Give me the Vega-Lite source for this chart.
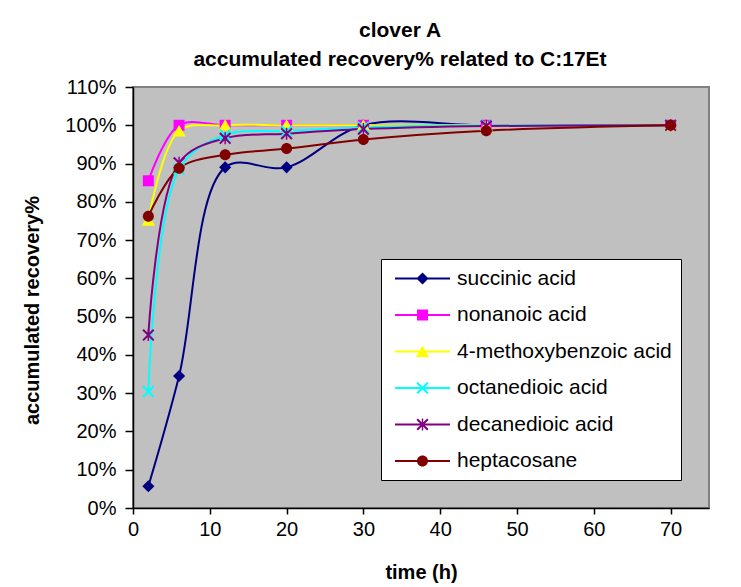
{
  "$schema": "https://vega.github.io/schema/vega-lite/v6.json",
  "width": 576,
  "height": 421,
  "autosize": {"type": "none"},
  "padding": {"left": 133, "top": 87, "right": 32, "bottom": 79},
  "background": "white",
  "config": {
    "font": "Liberation Sans",
    "view": {"fill": "#C0C0C0", "stroke": "#808080", "strokeWidth": 2},
    "axis": {
      "grid": false,
      "domainColor": "black",
      "domainWidth": 1.5,
      "tickColor": "black",
      "tickWidth": 1.5,
      "labelFont": "Liberation Sans",
      "labelFontSize": 20,
      "labelColor": "black",
      "titleFont": "Liberation Sans",
      "titleFontSize": 20,
      "titleFontWeight": "bold",
      "titleColor": "black"
    },
    "legend": {
      "labelFont": "Liberation Sans",
      "labelFontSize": 21,
      "labelColor": "black",
      "labelLimit": 400,
      "symbolSize": 121,
      "symbolStrokeWidth": 0,
      "rowPadding": 14.5,
      "padding": 9,
      "fillColor": "white",
      "strokeColor": "black",
      "cornerRadius": 0
    }
  },
  "title": {
    "text": ["clover A", "accumulated recovery% related to C:17Et"],
    "font": "Liberation Sans",
    "fontSize": 21,
    "fontWeight": "bold",
    "color": "black",
    "anchor": "middle",
    "dx": -21,
    "offset": 7,
    "lineHeight": 29.5
  },
  "data": {
    "values": [
      {"series": "succinic acid", "time": 2, "value": 0.057},
      {"series": "succinic acid", "time": 6, "value": 0.345},
      {"series": "succinic acid", "time": 12, "value": 0.89},
      {"series": "succinic acid", "time": 20, "value": 0.89},
      {"series": "succinic acid", "time": 30, "value": 1.0},
      {"series": "succinic acid", "time": 46, "value": 1.0},
      {"series": "succinic acid", "time": 70, "value": 1.0},
      {"series": "nonanoic acid", "time": 2, "value": 0.855},
      {"series": "nonanoic acid", "time": 6, "value": 1.0},
      {"series": "nonanoic acid", "time": 12, "value": 1.0},
      {"series": "nonanoic acid", "time": 20, "value": 1.0},
      {"series": "nonanoic acid", "time": 30, "value": 1.0},
      {"series": "nonanoic acid", "time": 46, "value": 1.0},
      {"series": "nonanoic acid", "time": 70, "value": 1.0},
      {"series": "4-methoxybenzoic acid", "time": 2, "value": 0.752},
      {"series": "4-methoxybenzoic acid", "time": 6, "value": 0.985},
      {"series": "4-methoxybenzoic acid", "time": 12, "value": 1.0},
      {"series": "4-methoxybenzoic acid", "time": 20, "value": 1.0},
      {"series": "4-methoxybenzoic acid", "time": 30, "value": 1.0},
      {"series": "4-methoxybenzoic acid", "time": 46, "value": 1.0},
      {"series": "4-methoxybenzoic acid", "time": 70, "value": 1.0},
      {"series": "octanedioic acid", "time": 2, "value": 0.304},
      {"series": "octanedioic acid", "time": 6, "value": 0.885},
      {"series": "octanedioic acid", "time": 12, "value": 0.975},
      {"series": "octanedioic acid", "time": 20, "value": 0.985},
      {"series": "octanedioic acid", "time": 30, "value": 0.995},
      {"series": "octanedioic acid", "time": 46, "value": 1.0},
      {"series": "octanedioic acid", "time": 70, "value": 1.0},
      {"series": "decanedioic acid", "time": 2, "value": 0.452},
      {"series": "decanedioic acid", "time": 6, "value": 0.902},
      {"series": "decanedioic acid", "time": 12, "value": 0.966},
      {"series": "decanedioic acid", "time": 20, "value": 0.978},
      {"series": "decanedioic acid", "time": 30, "value": 0.99},
      {"series": "decanedioic acid", "time": 46, "value": 0.998},
      {"series": "decanedioic acid", "time": 70, "value": 1.0},
      {"series": "heptacosane", "time": 2, "value": 0.762},
      {"series": "heptacosane", "time": 6, "value": 0.888},
      {"series": "heptacosane", "time": 12, "value": 0.923},
      {"series": "heptacosane", "time": 20, "value": 0.939},
      {"series": "heptacosane", "time": 30, "value": 0.963},
      {"series": "heptacosane", "time": 46, "value": 0.986},
      {"series": "heptacosane", "time": 70, "value": 1.0}
    ]
  },
  "encoding": {
    "x": {
      "field": "time",
      "type": "quantitative",
      "scale": {"domain": [0, 75], "nice": false},
      "axis": {"values": [0, 10, 20, 30, 40, 50, 60, 70], "title": "time (h)", "tickSize": 6, "labelPadding": 5, "titlePadding": 23, "labelFlush": false}
    },
    "y": {
      "field": "value",
      "type": "quantitative",
      "scale": {"domain": [0, 1.1], "nice": false},
      "axis": {"values": [0, 0.1, 0.2, 0.3, 0.4, 0.5, 0.6, 0.7, 0.8, 0.9, 1.0, 1.1], "format": ".0%", "title": "accumulated recovery%", "tickSize": 8, "labelPadding": 9, "titlePadding": 22, "titleY": 223, "labelFlush": false}
    }
  },
  "layer": [
    {
      "mark": {"type": "line", "interpolate": "catmull-rom", "strokeWidth": 2},
      "encoding": {
        "color": {
          "field": "series",
          "type": "nominal",
          "scale": {
            "domain": ["succinic acid", "nonanoic acid", "4-methoxybenzoic acid", "octanedioic acid", "decanedioic acid", "heptacosane"],
            "range": ["#000080", "#FF00FF", "#FFFF00", "#00FFFF", "#800080", "#800000"]
          },
          "legend": null
        }
      }
    },
    {
      "mark": {"type": "point", "filled": true, "opacity": 1, "size": 121},
      "encoding": {
        "color": {
          "field": "series",
          "type": "nominal",
          "scale": {
            "domain": ["succinic acid", "nonanoic acid", "4-methoxybenzoic acid", "octanedioic acid", "decanedioic acid", "heptacosane"],
            "range": ["#000080", "#FF00FF", "#FFFF00", "#00FFFF", "#800080", "#800000"]
          },
          "legend": null
        },
        "shape": {
          "field": "series",
          "type": "nominal",
          "scale": {
            "domain": ["succinic acid", "nonanoic acid", "4-methoxybenzoic acid", "octanedioic acid", "decanedioic acid", "heptacosane"],
            "range": [
              "M0,-1.1L1.1,0L0,1.1L-1.1,0Z",
              "M-1,-1H1V1H-1Z",
              "M0,-1.1L1.2,1L-1.2,1Z",
              "M-1.1,-0.84L-0.84,-1.1L0,-0.26L0.84,-1.1L1.1,-0.84L0.26,0L1.1,0.84L0.84,1.1L0,0.26L-0.84,1.1L-1.1,0.84L-0.26,0Z",
              "M-1.1,-0.84L-0.84,-1.1L0,-0.26L0.84,-1.1L1.1,-0.84L0.26,0L1.1,0.84L0.84,1.1L0,0.26L-0.84,1.1L-1.1,0.84L-0.26,0ZM-0.13,-1.1H0.13V1.1H-0.13Z",
              "M-1,0A1,1,0,1,1,1,0A1,1,0,1,1,-1,0Z"
            ]
          },
          "legend": null
        }
      }
    },
    {
      "transform": [{"filter": "datum.time < 0"}],
      "mark": {"type": "point", "filled": true, "opacity": 1, "size": 121},
      "encoding": {
        "color": {
          "field": "series",
          "type": "nominal",
          "scale": {
            "domain": ["succinic acid", "nonanoic acid", "4-methoxybenzoic acid", "octanedioic acid", "decanedioic acid", "heptacosane"],
            "range": ["#000080", "#FF00FF", "#FFFF00", "#00FFFF", "#800080", "#800000"]
          },
          "legend": {"title": null, "orient": "none", "legendX": 248, "legendY": 172, "symbolOffset": 22, "labelOffset": 24}
        },
        "shape": {
          "field": "series",
          "type": "nominal",
          "scale": {
            "domain": ["succinic acid", "nonanoic acid", "4-methoxybenzoic acid", "octanedioic acid", "decanedioic acid", "heptacosane"],
            "range": [
              "M-5,-0.18H5V0.18H-5ZM0,-1.1L1.1,0L0,1.1L-1.1,0Z",
              "M-5,-0.18H5V0.18H-5ZM-1,-1H1V1H-1Z",
              "M-5,-0.18H5V0.18H-5ZM0,-1.1L1.2,1L-1.2,1Z",
              "M-5,-0.18H5V0.18H-5ZM-1.1,-0.84L-0.84,-1.1L0,-0.26L0.84,-1.1L1.1,-0.84L0.26,0L1.1,0.84L0.84,1.1L0,0.26L-0.84,1.1L-1.1,0.84L-0.26,0Z",
              "M-5,-0.18H5V0.18H-5ZM-1.1,-0.84L-0.84,-1.1L0,-0.26L0.84,-1.1L1.1,-0.84L0.26,0L1.1,0.84L0.84,1.1L0,0.26L-0.84,1.1L-1.1,0.84L-0.26,0ZM-0.13,-1.1H0.13V1.1H-0.13Z",
              "M-5,-0.18H5V0.18H-5ZM-1,0A1,1,0,1,1,1,0A1,1,0,1,1,-1,0Z"
            ]
          },
          "legend": {"title": null, "orient": "none", "legendX": 248, "legendY": 172, "symbolOffset": 22, "labelOffset": 24}
        }
      }
    }
  ],
  "resolve": {"scale": {"color": "independent", "shape": "independent"}}
}
